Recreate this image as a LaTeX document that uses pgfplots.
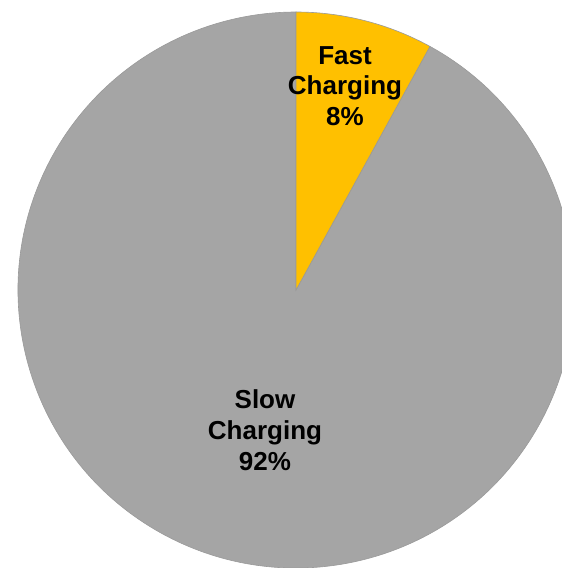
\documentclass[border=0pt]{standalone}
\usepackage{pgfplots}
\pgfplotsset{compat=1.18}
\usepackage{pgfplotstable}
\usepackage{fontspec}
\setmainfont{Liberation Sans}
\definecolor{fastc}{HTML}{FFC000}
\definecolor{slowc}{HTML}{A5A5A5}
\definecolor{edgec}{HTML}{9A9A9A}
\pgfplotstableread{
label value
Fast 8
Slow 92
}\piedata
\begin{document}
\begin{tikzpicture}
\pgfplotstablegetelem{0}{value}\of\piedata \let\vfast\pgfplotsretval
\pgfplotstablegetelem{1}{value}\of\piedata \let\vslow\pgfplotsretval
\pgfmathsetmacro{\aA}{90}
\pgfmathsetmacro{\aB}{90-3.6*\vfast}
\pgfmathsetmacro{\aC}{\aB-3.6*\vslow}
\begin{axis}[
  x=1pt, y=1pt,
  xmin=0, xmax=562, ymin=0, ymax=568,
  axis lines=none, ticks=none,
  clip=true,
]
\filldraw[fill=slowc, draw=edgec, line width=0.6pt]
  (axis cs:296,278) -- ++(\aB:278pt) arc[start angle=\aB, end angle=\aC, radius=278pt] -- cycle;
\filldraw[fill=fastc, draw=edgec, line width=0.6pt]
  (axis cs:296,278) -- ++(\aA:278pt) arc[start angle=\aA, end angle=\aB, radius=278pt] -- cycle;
\node[align=center, font=\fontsize{26}{30.5}\selectfont\bfseries] at (axis cs:345,482) {Fast\\Charging\\\vfast\%};
\node[align=center, font=\fontsize{26}{31}\selectfont\bfseries] at (axis cs:265,138) {Slow\\Charging\\\vslow\%};
\end{axis}
\pgfresetboundingbox
\path (current axis.south west) rectangle (current axis.north east);
\end{tikzpicture}
\end{document}
